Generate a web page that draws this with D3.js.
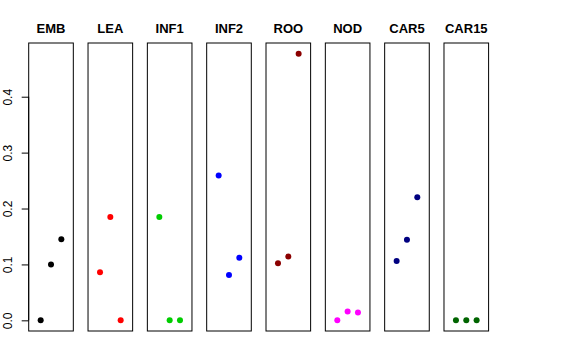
<!DOCTYPE html>
<html>
<head>
<meta charset="utf-8">
<script src="https://cdn.jsdelivr.net/npm/d3@7"></script>
<style>
  body { margin: 0; background: #fff; }
  text { font-family: "Liberation Sans", Arial, sans-serif; }
</style>
</head>
<body>
<div id="container"></div>
<script>
var tissues = ["EMB", "LEA", "INF1", "INF2", "ROO", "NOD", "CAR5", "CAR15"];
var colors = ["#000000", "#ff0000", "#00cd00", "#0000ff", "#8b0000", "#ff00ff", "#000080", "#006400"];
var values = [
  [0, 0.100, 0.145],
  [0.086, 0.185, 0],
  [0.185, 0, 0],
  [0.259, 0.081, 0.112],
  [0.102, 0.114, 0.477],
  [0, 0.016, 0.014],
  [0.106, 0.144, 0.220],
  [0, 0, 0]
];
var yTicks = [0, 0.1, 0.2, 0.3, 0.4];

var width = 576, height = 360;
var plotTop = 43, plotBottom = 331;

var svg = d3.select("#container")
  .append("svg")
    .attr("width", width)
    .attr("height", height);

// panel positions
var panel = d3.scaleBand()
  .domain(tissues)
  .range([28.7, 488.6])
  .paddingInner(0.248)
  .paddingOuter(0);

// shared y scale, R style 4% extension
var ymax = d3.max(values, function (v) { return d3.max(v); });
var ext = 0.04 * ymax;
var y = d3.scaleLinear()
  .domain([-ext, ymax + ext])
  .range([plotBottom, plotTop]);

// x within a panel: xlim 0..4 extended by 4%
var x = d3.scaleLinear()
  .domain([-0.16, 4.16])
  .range([0, panel.bandwidth()]);

tissues.forEach(function (t, i) {
  var g = svg.append("g")
    .attr("transform", "translate(" + panel(t) + ",0)");

  g.append("rect")
    .attr("x", 0)
    .attr("y", plotTop)
    .attr("width", panel.bandwidth())
    .attr("height", plotBottom - plotTop)
    .attr("fill", "none")
    .attr("stroke", "#000")
    .attr("stroke-width", 1);

  g.append("text")
    .attr("x", panel.bandwidth() / 2)
    .attr("y", 33)
    .attr("text-anchor", "middle")
    .attr("font-weight", "bold")
    .attr("font-size", "13px")
    .text(t);

  g.selectAll("circle")
    .data(values[i])
    .enter()
    .append("circle")
    .attr("cx", function (d, j) { return x(j + 1); })
    .attr("cy", function (d) { return y(d); })
    .attr("r", 3)
    .attr("fill", colors[i]);
});

// y axis on first panel
var yAxis = svg.append("g")
  .attr("transform", "translate(" + panel(tissues[0]) + ",0)")
  .call(d3.axisLeft(y).tickValues(yTicks).tickSize(7).tickSizeOuter(0).tickFormat(d3.format(".1f")));

yAxis.select(".domain")
  .attr("d", "M0," + y(yTicks[0]) + "V" + y(yTicks[yTicks.length - 1]));

yAxis.selectAll(".tick text")
  .attr("font-size", "12px")
  .attr("font-family", "Liberation Sans, Arial, sans-serif")
  .attr("fill", "#000")
  .attr("x", 0)
  .attr("dy", "0")
  .attr("text-anchor", "middle")
  .attr("transform", "translate(-17,0) rotate(-90)");
yAxis.selectAll("line").attr("stroke", "#000");
yAxis.select(".domain").attr("stroke", "#000");
</script>
</body>
</html>
